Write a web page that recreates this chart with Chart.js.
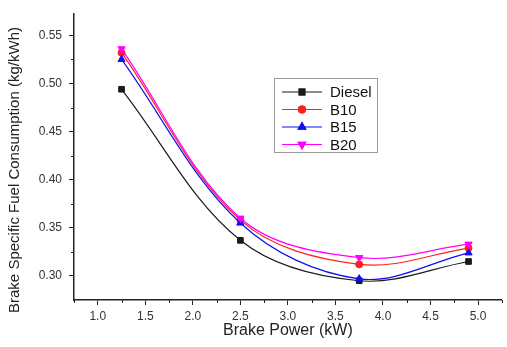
<!DOCTYPE html>
<html>
<head>
<meta charset="utf-8">
<script src="https://cdn.jsdelivr.net/npm/chart.js@4/dist/chart.umd.min.js"></script>
<style>
html,body{margin:0;padding:0;background:#fff;}
#wrap{width:507px;height:347px;position:relative;}
</style>
</head>
<body>
<div id="wrap"><canvas id="c" width="507" height="347"></canvas></div>
<script>
const brakePower = [1.25, 2.5, 3.75, 4.9];
const diesel = [0.494, 0.337, 0.295, 0.315];
const b10 = [0.532, 0.358, 0.312, 0.329];
const b15 = [0.525, 0.355, 0.297, 0.324];
const b20 = [0.536, 0.360, 0.319, 0.333];
const seriesNames = ['Diesel', 'B10', 'B15', 'B20'];
const xTicks = [1.0, 1.5, 2.0, 2.5, 3.0, 3.5, 4.0, 4.5, 5.0];
const yTicks = [0.30, 0.35, 0.40, 0.45, 0.50, 0.55];
const xTitle = 'Brake Power (kW)';
const yTitle = 'Brake Specific Fuel Consumption (kg/kWh)';

const FONT = "'Liberation Sans', Arial, sans-serif";
const styles = [
  {color:'#1a1a1a', point:'rect', rot:0, r:4},
  {color:'#ff2020', point:'circle', rot:0, r:3.5},
  {color:'#1010ee', point:'triangle', rot:0, r:4.2},
  {color:'#ff00ff', point:'triangle', rot:180, r:4.2}
];
const allSeries = [diesel, b10, b15, b20];

const datasets = allSeries.map((vals, i) => ({
  label: seriesNames[i],
  data: brakePower.map((x, j) => ({x: x, y: vals[j]})),
  borderColor: styles[i].color,
  backgroundColor: styles[i].color,
  borderWidth: 1.2,
  pointStyle: styles[i].point,
  pointRotation: styles[i].rot,
  pointRadius: styles[i].r,
  pointBorderWidth: 1,
  tension: 0.35,
  fill: false,
  order: 4 - i
}));

const minorTicks = {
  id: 'minorTicks',
  afterDraw(chart) {
    const ctx = chart.ctx;
    const xs = chart.scales.x, ys = chart.scales.y;
    ctx.save();
    ctx.strokeStyle = '#222';
    ctx.lineWidth = 1;
    ctx.beginPath();
    for (let i = 0; i < xTicks.length; i++) {
      for (const v of [xTicks[i] - 0.25, xTicks[i] + 0.25]) {
        if (v < xs.min || v > xs.max) continue;
        const px = Math.round(xs.getPixelForValue(v)) + 0.5;
        ctx.moveTo(px, ys.bottom);
        ctx.lineTo(px, ys.bottom + 3);
      }
    }
    for (let i = 0; i < yTicks.length; i++) {
      for (const v of [yTicks[i] - 0.025, yTicks[i] + 0.025]) {
        if (v < ys.min || v > ys.max) continue;
        const py = Math.round(ys.getPixelForValue(v)) + 0.5;
        ctx.moveTo(xs.left, py);
        ctx.lineTo(xs.left - 3, py);
      }
    }
    ctx.stroke();
    // y axis title
    ctx.translate(15, 170);
    ctx.rotate(-Math.PI / 2);
    ctx.font = '15px ' + FONT;
    ctx.fillStyle = '#222';
    ctx.textAlign = 'center';
    ctx.textBaseline = 'middle';
    ctx.fillText(yTitle, 0, 0);
    ctx.restore();
  }
};

const boxLegend = {
  id: 'boxLegend',
  afterDatasetsDraw(chart) {
    const ctx = chart.ctx;
    const bx = 274, by = 78, bw = 103, bh = 74;
    ctx.save();
    ctx.strokeStyle = '#9a9a9a';
    ctx.lineWidth = 1;
    ctx.strokeRect(bx + 0.5, by + 0.5, bw, bh);
    ctx.font = '15px ' + FONT;
    ctx.textBaseline = 'middle';
    ctx.textAlign = 'left';
    chart.data.datasets.forEach((ds, i) => {
      const y = by + 14 + i * 17.5;
      ctx.strokeStyle = ds.borderColor;
      ctx.lineWidth = 1.2;
      ctx.beginPath();
      ctx.moveTo(bx + 8, y);
      ctx.lineTo(bx + 48, y);
      ctx.stroke();
      ctx.fillStyle = ds.backgroundColor;
      Chart.helpers.drawPoint(ctx, {pointStyle: ds.pointStyle, rotation: ds.pointRotation, radius: ds.pointRadius, borderWidth: 1}, bx + 28, y);
      ctx.fill();
      ctx.stroke();
      ctx.fillStyle = '#111';
      ctx.fillText(ds.label, bx + 56, y + 1);
    });
    ctx.restore();
  }
};

new Chart(document.getElementById('c'), {
  type: 'line',
  data: {datasets},
  options: {
    responsive: false,
    animation: false,
    devicePixelRatio: 1,
    layout: {padding: {top: 13, right: 1, left: 0, bottom: 0}},
    plugins: {legend: {display: false}, tooltip: {enabled: false}},
    scales: {
      x: {
        type: 'linear',
        min: 0.75,
        max: 5.25,
        afterBuildTicks(scale) { scale.ticks = xTicks.map(v => ({value: v})); },
        afterFit(scale) { scale.height = 47; },
        border: {display: true, color: '#222', width: 1.5},
        grid: {drawOnChartArea: false, drawTicks: true, tickLength: 5, color: '#222'},
        ticks: {
          color: '#333',
          font: {family: FONT, size: 12},
          padding: 4,
          maxRotation: 0,
          callback: v => Number(v).toFixed(1)
        },
        title: {display: true, text: xTitle, color: '#222', font: {family: FONT, size: 16}, padding: {top: 0, bottom: 7}}
      },
      y: {
        type: 'linear',
        min: 0.275,
        max: 0.572,
        afterBuildTicks(scale) { scale.ticks = yTicks.map(v => ({value: v})); },
        afterFit(scale) { scale.width = 74; },
        border: {display: true, color: '#222', width: 1.5},
        grid: {drawOnChartArea: false, drawTicks: true, tickLength: 5, color: '#222'},
        ticks: {
          color: '#333',
          font: {family: FONT, size: 12},
          padding: 7,
          callback: v => Number(v).toFixed(2)
        },
        title: {display: false}
      }
    }
  },
  plugins: [minorTicks, boxLegend]
});
</script>
</body>
</html>
